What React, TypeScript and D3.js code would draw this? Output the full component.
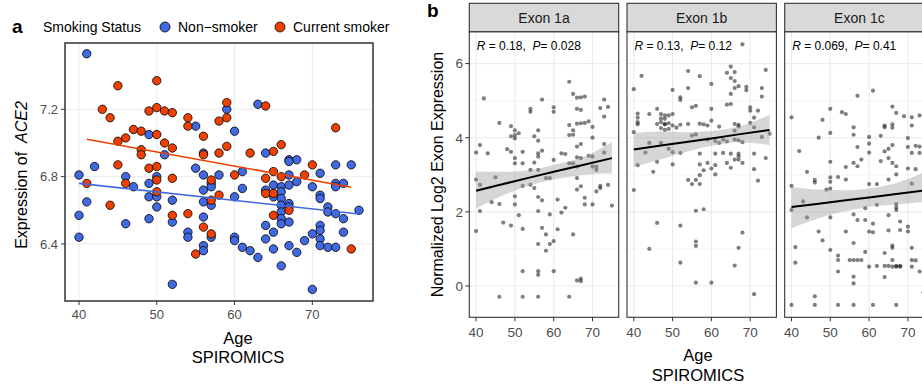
import React from "react";
import * as d3 from "d3";

// ---------------- Panel a data ----------------
const legendTitle = "Smoking Status";
const groupLabels = ["Non\u2212smoker", "Current smoker"];
const groupColors = ["#4169E1", "#EE4000"];

const currentSmoker: [number, number][] = [
  [45, 7.34], [50, 7.37], [43, 7.2], [44, 7.15], [49, 7.19], [50, 7.21], [51, 7.19], [52, 7.18],
  [54, 7.15], [54, 7.1], [47, 7.08], [48, 7.07], [50, 7.05], [46, 7.03], [45, 7.01], [51, 7.0],
  [52, 6.97], [48, 6.96], [48, 6.93], [45, 6.87], [49, 6.85], [50, 6.86], [46, 6.76], [50, 6.78],
  [52, 6.79], [41, 6.76], [50, 6.71], [44, 6.63], [52, 6.57], [54, 6.58], [55, 6.34],
  [59, 7.24], [59, 7.15], [58, 7.13], [64, 7.22], [56, 7.04], [59, 6.98], [56, 6.93], [58, 6.94],
  [62, 6.94], [65, 6.95], [66, 6.99], [57, 6.78], [60, 6.81], [58, 6.69], [64, 6.79], [65, 6.83],
  [66, 6.8], [69, 6.81], [70, 6.87], [73, 7.09], [64, 6.7], [65, 6.7], [67, 6.6], [65, 6.57],
  [57, 6.66], [56, 6.5], [57, 6.46], [75, 6.37],
];

const nonSmoker: [number, number][] = [
  [41, 7.53], [55, 7.1], [49, 7.05], [51, 6.93], [42, 6.86], [40, 6.81], [46, 6.8], [50, 6.8],
  [47, 6.74], [49, 6.76], [49, 6.68], [50, 6.68], [52, 6.66], [41, 6.65], [50, 6.62], [40, 6.57],
  [49, 6.55], [46, 6.52], [40, 6.44], [52, 6.53], [54, 6.47], [54, 6.44], [52, 6.16],
  [59, 7.2], [63, 7.23], [60, 7.07], [56, 6.94], [64, 6.94], [67, 6.9], [68, 6.9], [67, 6.89],
  [55, 6.85], [56, 6.81], [57, 6.76], [57, 6.74], [58, 6.81], [61, 6.83], [56, 6.72], [61, 6.73],
  [60, 6.68], [67, 6.81], [71, 6.82], [73, 6.87], [75, 6.87], [65, 6.75], [66, 6.74], [67, 6.75],
  [68, 6.77], [70, 6.74], [73, 6.76], [74, 6.76], [73, 6.74], [64, 6.72], [65, 6.68], [66, 6.71],
  [66, 6.67], [66, 6.63], [67, 6.64], [67, 6.62], [66, 6.59], [66, 6.55], [71, 6.69], [71, 6.67],
  [72, 6.62], [72, 6.59], [73, 6.58], [74, 6.55], [76, 6.6], [56, 6.65], [57, 6.63], [56, 6.56],
  [56, 6.39], [56, 6.36], [57, 6.44], [60, 6.44], [60, 6.42], [61, 6.38], [62, 6.36], [63, 6.32],
  [64, 6.51], [64, 6.43], [65, 6.47], [65, 6.37], [66, 6.52], [67, 6.53], [67, 6.39], [66, 6.27],
  [68, 6.35], [69, 6.42], [70, 6.46], [70, 6.13], [71, 6.51], [71, 6.48], [71, 6.43], [71, 6.39],
  [72, 6.38], [73, 6.38], [74, 6.47],
];

const smokerFit: [number, number][] = [[41, 7.022], [75, 6.737]];
const nonSmokerFit: [number, number][] = [[40, 6.76], [76, 6.578]];

const xTicksA = [40, 50, 60, 70];
const yTicksA = [6.4, 6.8, 7.2];

// ---------------- Panel b data ----------------
const facetNames = ["Exon 1a", "Exon 1b", "Exon 1c"];
const facetR = ["0.18", "0.13", "0.069"];
const facetP = ["0.028", "0.12", "0.41"];

const exon1a: [number, number][] = [
  [40, 3.6], [41, 3.8], [43, 3.58], [46, 4.4], [48, 3.69], [49, 4.31], [49, 3.62], [50, 4.2],
  [50, 4.07], [51, 4.12], [49, 4.04], [50, 3.98], [50, 3.45], [50, 3.31], [52, 3.62], [52, 3.31],
  [54, 3.13], [55, 4.04], [56, 3.92], [56, 3.58], [56, 3.49], [57, 3.65], [55, 3.33], [56, 3.13],
  [52, 2.7], [54, 2.73], [55, 2.64], [56, 2.4], [57, 2.31], [58, 2.91], [59, 2.91], [60, 3.4],
  [62, 3.58], [63, 3.56], [64, 4.34], [64, 4.07], [65, 4.2], [65, 4.08], [66, 3.76], [67, 3.83],
  [66, 3.47], [67, 3.45], [66, 3.22], [65, 3.31], [64, 3.31], [66, 2.91], [67, 2.69], [66, 2.6],
  [69, 3.51], [70, 3.49], [70, 4.0], [71, 3.22], [71, 3.13], [70, 3.22], [71, 2.55], [72, 2.64],
  [72, 2.7], [74, 2.73], [73, 3.83], [73, 3.6], [75, 2.17], [69, 4.44], [68, 4.4], [67, 4.39],
  [66, 4.38], [70, 4.29], [40, 2.87], [41, 2.73], [41, 2.02], [40, 1.48], [44, 2.26], [45, 2.93],
  [46, 2.21], [47, 1.71], [49, 1.63], [50, 2.42], [50, 2.2], [51, 1.91], [52, 1.54], [56, 2.02],
  [57, 1.57], [58, 1.39], [56, 1.13], [58, 0.95], [59, 1.13], [60, 1.21], [61, 2.33], [61, 1.53],
  [62, 1.98], [63, 2.11], [65, 1.39], [59, 1.93], [68, 2.2], [70, 2.2], [68, 2.38],
  [42, 5.06], [57, 5.03], [54, 4.78], [54, 4.7], [60, 4.82], [60, 4.7], [64, 5.51], [65, 5.18],
  [66, 5.08], [67, 5.09], [68, 5.11], [66, 4.78], [67, 4.75], [73, 5.03], [72, 4.8], [74, 4.83],
  [73, 4.57], [56, 4.2],
  [52, 0.4], [56, 0.4], [56, 0.3], [60, 0.4], [66, 0.15], [67, 0.2], [67, 0.13], [46, -0.29],
  [52, -0.29], [56, -0.29], [64, -0.29],
];

const exon1b: [number, number][] = [
  [68, 6.52], [65, 5.92], [54, 5.8], [57, 5.66], [60, 5.45], [64, 5.75], [66, 5.77], [65, 5.61],
  [66, 5.53], [66, 5.34], [67, 5.39], [69, 5.37], [69, 5.28], [73, 5.34], [73, 5.11], [74, 5.83],
  [65, 5.18], [50, 5.29], [54, 5.34], [52, 5.09], [52, 5.02], [55, 4.82], [56, 4.86], [60, 4.78],
  [64, 4.89], [65, 4.91], [70, 4.82], [70, 4.73], [72, 4.73], [50, 4.64], [49, 4.6], [48, 4.51],
  [49, 4.39], [50, 4.33], [51, 4.27], [54, 4.37], [58, 4.36], [60, 4.46], [62, 4.3], [66, 4.37],
  [71, 4.54], [67, 4.3],
  [40, 5.31], [42, 5.67], [41, 4.65], [41, 4.54], [44, 4.64], [46, 4.78], [47, 4.64], [47, 4.52],
  [48, 4.6], [48, 4.37],
  [40, 4.15], [41, 4.42], [41, 4.36], [40, 2.59], [41, 3.26], [43, 3.6], [44, 3.86], [45, 3.08],
  [46, 3.35], [46, 1.7], [44, 1.0], [46, 4.37], [47, 4.42], [48, 4.36], [49, 4.24], [47, 3.86],
  [49, 3.7],
  [47, 4.26], [48, 4.21], [52, 4.35], [57, 4.38], [59, 4.33], [70, 4.4], [50, 3.61], [52, 3.59],
  [50, 3.28], [55, 4.06], [56, 4.09], [59, 3.95], [61, 3.91], [63, 3.95], [62, 3.86], [64, 3.9],
  [66, 3.95], [68, 3.88], [67, 3.93], [66, 4.19], [67, 4.35], [71, 4.28], [73, 4.02], [75, 4.11],
  [57, 3.57], [61, 3.57], [63, 3.59], [65, 3.57], [67, 3.57], [67, 3.5], [67, 3.41], [66, 3.41],
  [68, 3.32], [64, 3.32], [71, 3.57], [74, 3.45], [57, 3.28], [59, 3.32], [58, 3.12], [60, 3.17],
  [61, 3.26], [65, 3.19], [57, 2.99], [56, 2.86], [54, 2.86], [55, 2.75], [57, 2.75], [61, 3.01],
  [71, 3.15], [72, 2.84], [56, 2.03], [58, 2.07], [52, 1.63], [68, 1.44], [56, 1.2], [56, 1.08],
  [67, 1.03], [52, 0.63], [66, 0.55], [56, 0.09], [60, 0.09], [71, -0.22],
];

const exon1c: [number, number][] = [
  [40, 4.55], [48, 4.48], [50, 4.78], [53, 4.69], [54, 4.64], [56, 4.28], [57, 5.13], [61, 5.27],
  [64, 4.28], [66, 4.36], [66, 4.84], [67, 4.67], [69, 4.58], [71, 4.55], [73, 4.6],
  [40, 2.7], [40, 2.05], [41, 1.05], [41, 0.63], [42, 3.64], [43, 2.28], [44, 1.85], [44, 3.08],
  [46, 2.86], [46, 2.79], [47, 4.0], [47, 1.47], [48, 1.23], [49, 2.6], [50, 2.63], [50, 2.81],
  [50, 2.93], [50, 3.35], [50, 4.13], [50, 1.85], [50, 0.97], [52, 2.94], [52, 0.82], [52, 0.7],
  [54, 3.21], [54, 2.87], [54, 1.47], [55, 0.7], [56, 0.7], [57, 0.7], [58, 0.7], [56, 4.08],
  [56, 3.32], [56, 1.93], [56, 1.16], [57, 3.75], [57, 3.23], [57, 1.78], [58, 3.41], [59, 2.1],
  [59, 1.78], [59, 0.92], [60, 3.84], [60, 3.6], [60, 4.02], [60, 2.75], [60, 1.47], [60, 0.52],
  [61, 1.68], [61, 1.45], [63, 4.05], [63, 3.37], [62, 2.75], [62, 2.19], [64, 3.63], [64, 4.33],
  [65, 3.7], [66, 3.8], [66, 4.27], [65, 3.45], [66, 3.32], [67, 3.23], [67, 3.01], [65, 2.87],
  [65, 1.91], [66, 1.09], [66, 1.03], [65, 1.5], [67, 2.21], [67, 2.12], [67, 2.05], [68, 1.51],
  [68, 1.74], [70, 3.99], [70, 3.75], [70, 3.17], [70, 1.6], [70, 1.47], [71, 4.33], [71, 3.59],
  [71, 2.76], [71, 1.03], [72, 3.78], [73, 3.76], [72, 3.15], [73, 3.59], [66, 0.7], [67, 0.54],
  [68, 0.54], [65, 0.54], [64, 0.54], [62, 0.54], [71, 0.7],
  [46, -0.28], [40, -0.51], [46, -0.51], [52, -0.51], [56, -0.51], [61, -0.51], [67, -0.51],
  [52, 0.39], [56, 0.25], [56, 0.07], [64, 0.89], [64, 0.24], [66, 0.52], [67, 0.52], [68, 0.52],
  [71, 0.52], [72, 0.69], [73, 0.39], [74, -0.18],
];

const facetData = [exon1a, exon1b, exon1c];

// smooth fit and confidence band
const bandAges = [40, 47, 54, 60, 67, 75];
const fit1a = [2.57, 2.75, 2.93, 3.08, 3.25, 3.45];
const low1a = [2.09, 2.45, 2.72, 2.87, 2.99, 3.04];
const up1a = [3.09, 3.08, 3.13, 3.27, 3.46, 3.88];
const fit1b = [3.68, 3.79, 3.89, 3.98, 4.09, 4.21];
const low1b = [3.21, 3.42, 3.63, 3.78, 3.88, 3.8];
const up1b = [4.13, 4.17, 4.15, 4.18, 4.3, 4.62];
const fit1c = [2.13, 2.22, 2.31, 2.39, 2.48, 2.59];
const low1c = [1.56, 1.83, 2.02, 2.14, 2.2, 2.27];
const up1c = [2.68, 2.6, 2.58, 2.63, 2.78, 3.1];
const facetFit = [fit1a, fit1b, fit1c];
const facetLow = [low1a, low1b, low1c];
const facetUp = [up1a, up1b, up1c];

const xTicksB = [40, 50, 60, 70];
const yTicksB = [0, 2, 4, 6];
const yMinorB = [1, 3, 5];

const FONT = "'Liberation Sans', Arial, Helvetica, sans-serif";
const GRID = "#EBEBEB";
const TICKTXT = "#4D4D4D";
const BORDER = "#333333";

export default function App() {
  // panel a scales
  const ax = d3.scaleLinear().domain([38.2, 77.8]).range([65, 373]);
  const ay = d3.scaleLinear().domain([6.061, 7.594]).range([301, 43]);
  const lineA = d3.line<[number, number]>().x((d) => ax(d[0])).y((d) => ay(d[1]));

  // panel b scales
  const facetW = 149.4;
  const facetStep = 157.7;
  const facetX0 = 469.3;
  const stripTop = 3.3;
  const panelTop = 31.7;
  const panelBot = 317.3;
  const by = d3.scaleLinear().domain([-0.845, 6.86]).range([panelBot, panelTop]);

  return (
    <svg
      width={922}
      height={387}
      style={{ position: "absolute", left: 0, top: 0, background: "#fff" }}
      fontFamily={FONT}
    >
      <rect x={0} y={0} width={922} height={387} fill="#fff" />
      {/* ---------- Panel a ---------- */}
      <text x={12} y={33} fontSize={19} fontWeight="bold">a</text>
      <text x={43} y={32} fontSize={14} fill="#000">{legendTitle}</text>
      <circle cx={165} cy={27} r={5} fill={groupColors[0]} stroke="#000" strokeWidth={0.8} />
      <text x={178} y={32} fontSize={14}>{groupLabels[0]}</text>
      <circle cx={280} cy={27} r={5} fill={groupColors[1]} stroke="#000" strokeWidth={0.8} />
      <text x={293} y={32} fontSize={14}>{groupLabels[1]}</text>

      <g>
        {xTicksA.map((t) => (
          <line key={"gx" + t} x1={ax(t)} x2={ax(t)} y1={43} y2={301} stroke={GRID} strokeWidth={1} />
        ))}
        {yTicksA.map((t) => (
          <line key={"gy" + t} x1={65} x2={373} y1={ay(t)} y2={ay(t)} stroke={GRID} strokeWidth={1} />
        ))}
        {nonSmoker.map((d, i) => (
          <circle key={"n" + i} cx={ax(d[0])} cy={ay(d[1])} r={4.2} fill={groupColors[0]} stroke="#000" strokeWidth={0.8} />
        ))}
        {currentSmoker.map((d, i) => (
          <circle key={"c" + i} cx={ax(d[0])} cy={ay(d[1])} r={4.2} fill={groupColors[1]} stroke="#000" strokeWidth={0.8} />
        ))}
        <path d={lineA(smokerFit) || ""} stroke={groupColors[1]} strokeWidth={1.6} fill="none" />
        <path d={lineA(nonSmokerFit) || ""} stroke={groupColors[0]} strokeWidth={1.6} fill="none" />
        <rect x={65} y={43} width={308} height={258} fill="none" stroke={BORDER} strokeWidth={1.5} />
        {xTicksA.map((t) => (
          <g key={"tx" + t}>
            <line x1={ax(t)} x2={ax(t)} y1={301} y2={305} stroke={BORDER} strokeWidth={1} />
            <text x={ax(t)} y={319} fontSize={13} fill={TICKTXT} textAnchor="middle">{t}</text>
          </g>
        ))}
        {yTicksA.map((t) => (
          <g key={"ty" + t}>
            <line x1={61} x2={65} y1={ay(t)} y2={ay(t)} stroke={BORDER} strokeWidth={1} />
            <text x={58} y={ay(t) + 4.6} fontSize={13} fill={TICKTXT} textAnchor="end">{t.toFixed(1)}</text>
          </g>
        ))}
        <text x={238} y={344} fontSize={16.5} textAnchor="middle">Age</text>
        <text x={238} y={363} fontSize={16.5} textAnchor="middle">SPIROMICS</text>
        <text transform="translate(27,175) rotate(-90)" fontSize={16} textAnchor="middle" style={{ whiteSpace: "pre" }}>
          {"Expression of  "}<tspan fontStyle="italic">ACE2</tspan>
        </text>
      </g>

      {/* ---------- Panel b ---------- */}
      <text x={427} y={17} fontSize={19} fontWeight="bold">b</text>
      {facetNames.map((name, fi) => {
        const x0 = facetX0 + fi * facetStep;
        const bx = d3.scaleLinear().domain([38.25, 76.75]).range([x0, x0 + facetW]);
        const idx = d3.range(bandAges.length);
        const area = d3
          .area<number>()
          .x((i) => bx(bandAges[i]))
          .y0((i) => by(facetLow[fi][i]))
          .y1((i) => by(facetUp[fi][i]))
          .curve(d3.curveMonotoneX);
        const fitLine = d3
          .line<number>()
          .x((i) => bx(bandAges[i]))
          .y((i) => by(facetFit[fi][i]));
        return (
          <g key={name}>
            <rect x={x0} y={panelTop} width={facetW} height={panelBot - panelTop} fill="#fff" />
            {yMinorB.map((t) => (
              <line key={"m" + t} x1={x0} x2={x0 + facetW} y1={by(t)} y2={by(t)} stroke={GRID} strokeWidth={0.6} />
            ))}
            {yTicksB.map((t) => (
              <line key={"g" + t} x1={x0} x2={x0 + facetW} y1={by(t)} y2={by(t)} stroke={GRID} strokeWidth={1.1} />
            ))}
            {xTicksB.map((t) => (
              <line key={"v" + t} x1={bx(t)} x2={bx(t)} y1={panelTop} y2={panelBot} stroke={GRID} strokeWidth={1.1} />
            ))}
            {facetData[fi].map((d, i) => (
              <circle key={i} cx={bx(d[0])} cy={by(d[1])} r={2.1} fill="#000" fillOpacity={0.5} />
            ))}
            <path d={area(idx) || ""} fill="#999999" fillOpacity={0.4} />
            <path d={fitLine(idx) || ""} stroke="#000" strokeWidth={2} fill="none" />
            <text
              x={x0 + 0.05 * facetW}
              y={panelTop + 0.05 * (panelBot - panelTop) + 4.3}
              fontSize={12}
              fill="#000"
              style={{ whiteSpace: "pre" }}
            >
              <tspan fontStyle="italic">R</tspan>
              {" = " + facetR[fi] + ",  "}
              <tspan fontStyle="italic">P</tspan>
              {"= " + facetP[fi]}
            </text>
            <rect x={x0} y={panelTop} width={facetW} height={panelBot - panelTop} fill="none" stroke={BORDER} strokeWidth={1.1} />
            <rect x={x0} y={stripTop} width={facetW} height={panelTop - stripTop} fill="#D9D9D9" stroke={BORDER} strokeWidth={1.1} />
            <text x={x0 + facetW / 2} y={22.5} fontSize={14} fill="#1A1A1A" textAnchor="middle">{name}</text>
            {xTicksB.map((t) => (
              <g key={"t" + t}>
                <line x1={bx(t)} x2={bx(t)} y1={panelBot} y2={panelBot + 4} stroke={BORDER} strokeWidth={1} />
                <text x={bx(t)} y={337} fontSize={13.5} fill={TICKTXT} textAnchor="middle">{t}</text>
              </g>
            ))}
          </g>
        );
      })}
      {yTicksB.map((t) => (
        <g key={"by" + t}>
          <line x1={facetX0 - 4} x2={facetX0} y1={by(t)} y2={by(t)} stroke={BORDER} strokeWidth={1} />
          <text x={463} y={by(t) + 4.8} fontSize={13.5} fill={TICKTXT} textAnchor="end">{t}</text>
        </g>
      ))}
      <text transform="translate(443,174.5) rotate(-90)" fontSize={16} textAnchor="middle">
        Normalized Log2 Exon Expression
      </text>
      <text x={698} y={361} fontSize={16.5} textAnchor="middle">Age</text>
      <text x={698} y={381} fontSize={16.5} textAnchor="middle">SPIROMICS</text>
    </svg>
  );
}
